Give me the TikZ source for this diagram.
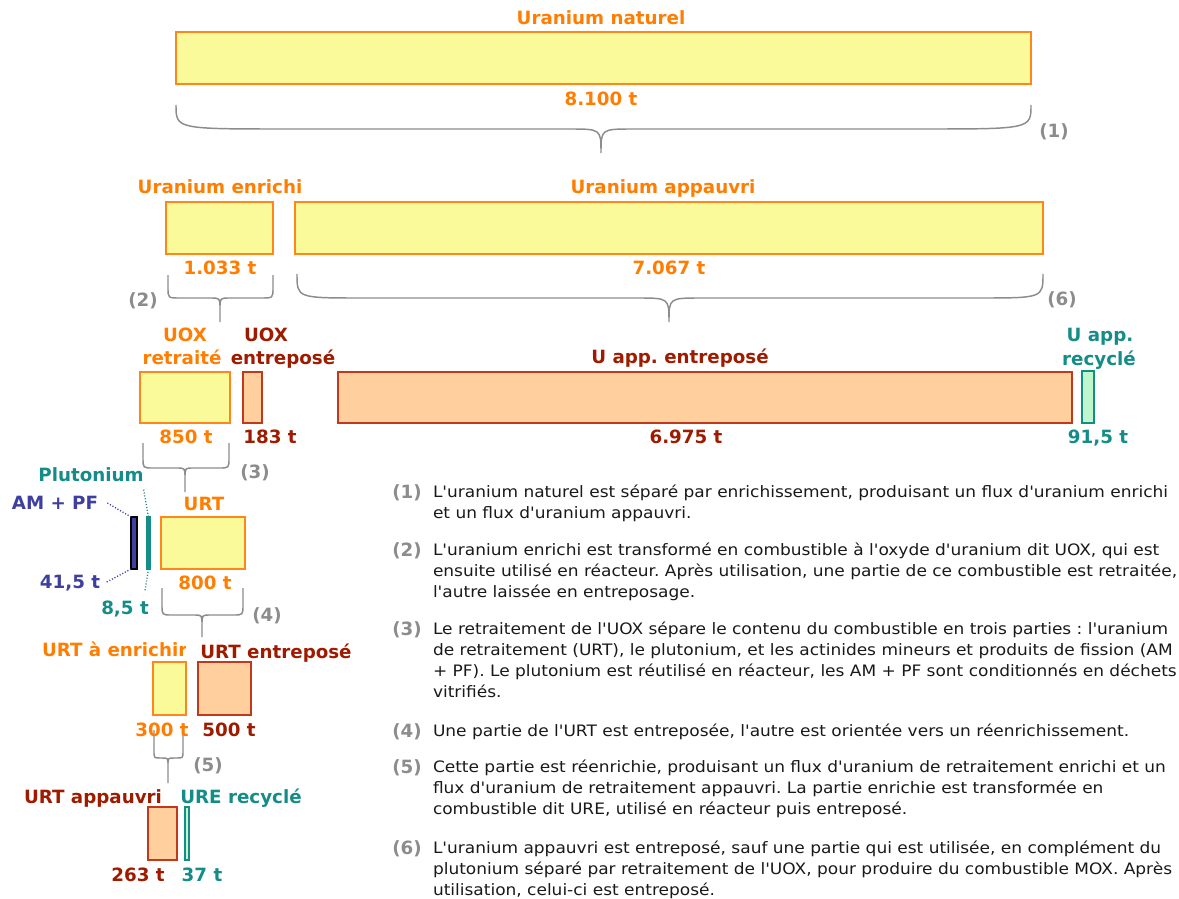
\documentclass[tikz,border=0pt]{standalone}
\usepackage{fontspec}
\setmainfont{DejaVu Sans}[Ligatures=TeXOff]
\newfontfamily\bodyfont{DejaVu Sans}[Ligatures=TeXOff, FakeStretch=1.08]
\usetikzlibrary{fit}
\definecolor{orn}{RGB}{255,125,0}
\definecolor{obd}{RGB}{255,135,25}
\definecolor{yel}{RGB}{250,250,155}
\definecolor{drd}{RGB}{158,27,0}
\definecolor{pch}{RGB}{255,208,158}
\definecolor{pbd}{RGB}{192,57,27}
\definecolor{tea}{RGB}{20,140,135}
\definecolor{grn}{RGB}{192,246,204}
\definecolor{nav}{RGB}{63,63,159}
\definecolor{gry}{RGB}{140,140,140}
\definecolor{txt}{RGB}{25,25,25}
\newcommand{\brc}[9]{\draw[brace] (#1,#4) -- (#1,#5-#9) .. controls (#1,#5) .. (#1+#7,#5) -- (#3-#8,#5) .. controls (#3,#5) .. (#3,#5+#9) -- (#3,#6) -- (#3,#5+#9) .. controls (#3,#5) .. (#3+#8,#5) -- (#2-#7,#5) .. controls (#2,#5) .. (#2,#5-#9) -- (#2,#4);}
\frenchspacing
\begin{document}
\frenchspacing
\begin{tikzpicture}[x=0.75pt,y=-0.75pt,
  every node/.style={inner sep=0pt, outer sep=0pt},
  bx/.style={line width=1.4pt, inner sep=0pt},
  ybox/.style={bx, draw=obd, fill=yel},
  pbox/.style={bx, draw=pbd, fill=pch},
  gbox/.style={bx, draw=tea, fill=grn},
  nbox/.style={bx, line width=1pt, draw=black, fill=nav},
  tbar/.style={bx, line width=0.8pt, draw=tea, fill=tea},
  tbarw/.style={bx, line width=1pt, draw=tea, fill=grn},
  lab/.style={font=\bfseries\fontsize{13.7}{15}\selectfont, text height=9.9pt, text depth=0pt, anchor=center},
  num/.style={lab, text=gry},
  body/.style={font=\bodyfont\fontsize{11.8}{13}\selectfont\frenchspacing, text=txt, text height=8.5pt, text depth=0pt, anchor=west},
  brace/.style={draw=gry, line width=1.1pt},
  dots/.style={line width=1pt, dash pattern=on 0.8pt off 1.4pt}
]
\useasboundingbox (0,0) rectangle (1179,899);

% boxes
\node[ybox, fit={(176,32) (1031,84)}] (nat) {};
\node[ybox, fit={(166,202) (273,254)}] (enr) {};
\node[ybox, fit={(295,202) (1043,254)}] (app) {};
\node[ybox, fit={(140,372) (230,423)}] (uoxr) {};
\node[pbox, fit={(243,372) (262,423)}] (uoxe) {};
\node[pbox, fit={(338,372) (1072,423)}] (uappe) {};
\node[gbox, fit={(1082,371) (1094,423)}] (uappr) {};
\node[nbox, fit={(131,517) (137,569)}] (ambar) {};
\node[tbar, fit={(147,517) (150,569)}] (pubar) {};
\node[ybox, fit={(161,517) (245,569)}] (urt) {};
\node[ybox, fit={(153,662) (186,715)}] (urtenr) {};
\node[pbox, fit={(198,662) (251,715)}] (urtent) {};
\node[pbox, fit={(148,807) (177,860)}] (urtapp) {};
\node[tbarw, fit={(185,807) (189,860)}] (urerec) {};

% braces
\brc{176}{1031}{601}{105}{129}{153}{110}{32}{24}
\brc{168}{273}{220}{275}{298}{322}{12}{10}{10}
\brc{297}{1043}{669}{275}{298}{322}{65}{32}{24}
\brc{143}{229}{185}{443}{468}{492}{10}{8}{10}
\brc{162}{243}{202}{588}{615}{637}{10}{8}{10}
\brc{154}{183}{168}{730}{758}{783}{6}{6}{7}

% labels
\node[lab, text=orn] (Lnat) at (601,18) {Uranium naturel};
\node[lab, text=orn] (Qnat) at (601,99) {8.100 t};
\node[num] (n1) at (1054,131) {(1)};
\node[lab, text=orn] (Lenr) at (220,187) {Uranium enrichi};
\node[lab, text=orn] (Qenr) at (220,268) {1.033 t};
\node[lab, text=orn] (Lapp) at (663,187) {Uranium appauvri};
\node[lab, text=orn] (Qapp) at (669,268) {7.067 t};
\node[num] (n2) at (143,300) {(2)};
\node[num] (n6) at (1062,299) {(6)};
\node[lab, text=orn] (Luoxr1) at (185,335) {UOX};
\node[lab, text=orn] (Luoxr2) at (182,358) {retraité};
\node[lab, text=drd] (Luoxe1) at (266,335) {UOX};
\node[lab, text=drd] (Luoxe2) at (283,358) {entreposé};
\node[lab, text=drd] (Luappe) at (680,357) {U app. entreposé};
\node[lab, text=tea] (Luappr1) at (1100,335) {U app.};
\node[lab, text=tea] (Luappr2) at (1099,359) {recyclé};
\node[lab, text=orn] (Q850) at (186,437) {850 t};
\node[lab, text=drd] (Q183) at (270,437) {183 t};
\node[lab, text=drd] (Q6975) at (686,437) {6.975 t};
\node[lab, text=tea] (Q915) at (1098,437) {91,5 t};
\node[num] (n3) at (255,472) {(3)};
\node[lab, text=tea] (Lplu) at (91,475) {Plutonium};
\node[lab, text=nav] (Lampf) at (55,503) {AM + PF};
\node[lab, text=orn] (Lurt) at (204,504) {URT};
\node[lab, text=nav] (Q415) at (70,582) {41,5 t};
\node[lab, text=orn] (Q800) at (205,583) {800 t};
\node[lab, text=tea] (Q85) at (125,608) {8,5 t};
\node[num] (n4) at (267,615) {(4)};
\begin{scope}
\clip (0,630) rectangle (185,670);
\node[lab, text=orn, anchor=west] (Lurtenr) at (42,650) {URT à enrichir};
\end{scope}
\node[lab, text=drd] (Lurtent) at (276,652) {URT entreposé};
\node[lab, text=orn] (Q300) at (162,730) {300 t};
\node[lab, text=drd] (Q500) at (229,730) {500 t};
\node[num] (n5) at (208,765) {(5)};
\node[lab, text=drd] (Lurtapp) at (93,797) {URT appauvri};
\node[lab, text=tea] (Lurerec) at (241,797) {URE recyclé};
\node[lab, text=drd] (Q263) at (138,875) {263 t};
\node[lab, text=tea] (Q37) at (202,875) {37 t};

% dotted connectors
\draw[dots, nav] ([xshift=7pt]Lampf.east) -- (ambar.north west);
\draw[dots, nav] ([xshift=5pt]Q415.east) -- (ambar.south west);
\draw[dots, tea] ([yshift=-6pt]Lplu.south east) -- (pubar.north);
\draw[dots, tea] (pubar.south) -- ([xshift=-3pt,yshift=7pt]Q85.north east);

% explanation
\node[num] (e1) at (407,492) {(1)};
\node[body] (e1a) at (433,492) {L'uranium naturel est séparé par enrichissement, produisant un flux d'uranium enrichi};
\node[body] (e1b) at (433,513) {et un flux d'uranium appauvri.};
\node[num] (e2) at (407,550) {(2)};
\node[body] (e2a) at (433,550) {L'uranium enrichi est transformé en combustible à l'oxyde d'uranium dit UOX, qui est};
\node[body] (e2b) at (433,571) {ensuite utilisé en réacteur. Après utilisation, une partie de ce combustible est retraitée,};
\node[body] (e2c) at (433,592) {l'autre laissée en entreposage.};
\node[num] (e3) at (407,629) {(3)};
\node[body] (e3a) at (433,629) {Le retraitement de l'UOX sépare le contenu du combustible en trois parties : l'uranium};
\node[body] (e3b) at (433,650) {de retraitement (URT), le plutonium, et les actinides mineurs et produits de fission (AM};
\node[body] (e3c) at (433,671) {+ PF). Le plutonium est réutilisé en réacteur, les AM + PF sont conditionnés en déchets};
\node[body] (e3d) at (433,692) {vitrifiés.};
\node[num] (e4) at (407,731) {(4)};
\node[body] (e4a) at (433,731) {Une partie de l'URT est entreposée, l'autre est orientée vers un réenrichissement.};
\node[num] (e5) at (407,767) {(5)};
\node[body] (e5a) at (433,767) {Cette partie est réenrichie, produisant un flux d'uranium de retraitement enrichi et un};
\node[body] (e5b) at (433,788) {flux d'uranium de retraitement appauvri. La partie enrichie est transformée en};
\node[body] (e5c) at (433,809) {combustible dit URE, utilisé en réacteur puis entreposé.};
\node[num] (e6) at (407,848) {(6)};
\node[body] (e6a) at (433,848) {L'uranium appauvri est entreposé, sauf une partie qui est utilisée, en complément du};
\node[body] (e6b) at (433,869) {plutonium séparé par retraitement de l'UOX, pour produire du combustible MOX. Après};
\node[body] (e6c) at (433,890) {utilisation, celui-ci est entreposé.};
\end{tikzpicture}
\end{document}
